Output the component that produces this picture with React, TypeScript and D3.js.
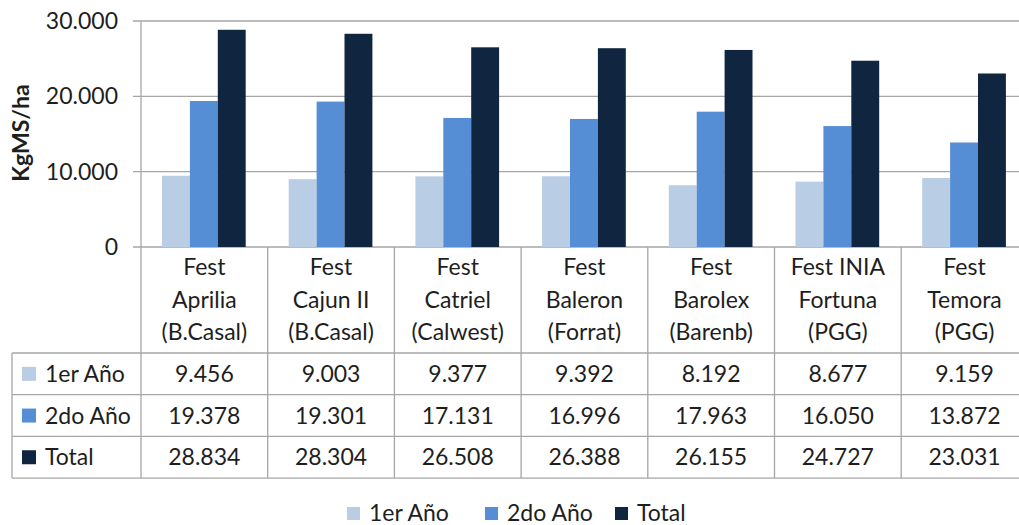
import * as d3 from "d3";
import { useEffect, useRef } from "react";

// varieties (header of the data table, one line per "\n")
const categories = [
  "Fest\nAprilia\n(B.Casal)",
  "Fest\nCajun II\n(B.Casal)",
  "Fest\nCatriel\n(Calwest)",
  "Fest\nBaleron\n(Forrat)",
  "Fest\nBarolex\n(Barenb)",
  "Fest INIA\nFortuna\n(PGG)",
  "Fest\nTemora\n(PGG)",
];

const seriesNames = ["1er Año", "2do Año", "Total"];
const primerAno = [9456, 9003, 9377, 9392, 8192, 8677, 9159];
const segundoAno = [19378, 19301, 17131, 16996, 17963, 16050, 13872];
const total = [28834, 28304, 26508, 26388, 26155, 24727, 23031];
const yTicks = [0, 10000, 20000, 30000];

const colors = ["#B9CDE5", "#558ED5", "#10253F"];
const FONT = "Lato, 'Open Sans', sans-serif";

const App: React.FC = () => {
  const ref = useRef<SVGSVGElement | null>(null);

  useEffect(() => {
    const svg = d3.select(ref.current);
    svg.selectAll("*").remove();

    const width = 1019;
    const left = 141,
      top = 21,
      axisY = 247;
    const colW = 126.7;
    const tableLeft = 12;
    const headerBottom = 353;
    const rowH = 41.7;
    const fontSize = 23;
    const grey = "#A6A6A6";
    const ink = "#1E1E1E";

    const values = [primerAno, segundoAno, total];
    const fmt = d3
      .formatLocale({
        decimal: ",",
        thousands: ".",
        grouping: [3],
        currency: ["", ""],
      })
      .format(",");

    const x = d3
      .scaleBand()
      .domain(categories)
      .range([left, left + colW * categories.length]);
    const xInner = d3
      .scaleBand()
      .domain(seriesNames)
      .range([21, x.bandwidth() - 22]);
    const y = d3.scaleLinear().domain([0, 30000]).range([axisY, top]);

    // gridlines + ticks
    const grid = svg.append("g");
    grid
      .selectAll("line")
      .data(yTicks)
      .join("line")
      .attr("x1", left - 8)
      .attr("x2", width)
      .attr("y1", (d) => y(d))
      .attr("y2", (d) => y(d))
      .attr("stroke", grey)
      .attr("stroke-width", 1.3);
    grid
      .selectAll("text")
      .data(yTicks)
      .join("text")
      .attr("x", left - 23)
      .attr("y", (d) => y(d) + 8)
      .attr("text-anchor", "end")
      .attr("font-family", FONT)
      .attr("font-size", fontSize)
      .attr("fill", ink)
      .text((d) => fmt(d));

    // bars
    const groups = svg
      .append("g")
      .selectAll("g")
      .data(categories)
      .join("g")
      .attr("transform", (d) => `translate(${x(d)},0)`);
    groups
      .selectAll("rect")
      .data((_, i) => seriesNames.map((s, k) => ({ s, v: values[k][i], k })))
      .join("rect")
      .attr("x", (d) => xInner(d.s) ?? 0)
      .attr("width", xInner.bandwidth())
      .attr("y", (d) => y(d.v))
      .attr("height", (d) => axisY - y(d.v))
      .attr("fill", (d) => colors[d.k]);

    // table lines
    const tableBottom = headerBottom + rowH * 3;
    const lines = svg.append("g").attr("stroke", grey).attr("stroke-width", 1.3);
    lines
      .append("line")
      .attr("x1", left)
      .attr("x2", left)
      .attr("y1", top)
      .attr("y2", tableBottom);
    categories.forEach((c) => {
      const xr = (x(c) ?? 0) + x.bandwidth();
      lines
        .append("line")
        .attr("x1", xr)
        .attr("x2", xr)
        .attr("y1", axisY)
        .attr("y2", tableBottom);
    });
    lines
      .append("line")
      .attr("x1", tableLeft)
      .attr("x2", tableLeft)
      .attr("y1", headerBottom)
      .attr("y2", tableBottom);
    [0, 1, 2, 3].forEach((r) => {
      const yy = headerBottom + rowH * r;
      lines
        .append("line")
        .attr("x1", tableLeft)
        .attr("x2", width)
        .attr("y1", yy)
        .attr("y2", yy);
    });

    // header text
    categories.forEach((c) => {
      const cx = (x(c) ?? 0) + x.bandwidth() / 2;
      const t = svg
        .append("text")
        .attr("text-anchor", "middle")
        .attr("font-family", FONT)
        .attr("font-size", fontSize)
        .attr("fill", ink);
      c.split("\n").forEach((ln, i) => {
        t.append("tspan")
          .attr("x", cx)
          .attr("y", 275 + i * 32.5)
          .text(ln);
      });
    });

    // data rows
    seriesNames.forEach((s, k) => {
      const base = headerBottom + rowH * k + rowH / 2 + 8;
      svg
        .append("rect")
        .attr("x", 22)
        .attr("y", base - 15)
        .attr("width", 14)
        .attr("height", 14)
        .attr("fill", colors[k]);
      svg
        .append("text")
        .attr("x", 45)
        .attr("y", base)
        .attr("font-family", FONT)
        .attr("font-size", fontSize)
        .attr("fill", ink)
        .text(s);
      values[k].forEach((v, i) => {
        svg
          .append("text")
          .attr("x", (x(categories[i]) ?? 0) + x.bandwidth() / 2)
          .attr("y", base)
          .attr("text-anchor", "middle")
          .attr("font-family", FONT)
          .attr("font-size", fontSize)
          .attr("fill", ink)
          .text(fmt(v));
      });
    });

    // y axis title
    svg
      .append("text")
      .attr("transform", `translate(29,133) rotate(-90)`)
      .attr("text-anchor", "middle")
      .attr("font-family", FONT)
      .attr("font-size", 23)
      .attr("font-weight", "bold")
      .attr("fill", ink)
      .text("KgMS/ha");

    // legend
    const legend = svg.append("g").attr("transform", "translate(347,521)");
    const legendX = [0, 138, 268];
    seriesNames.forEach((s, k) => {
      const g = legend.append("g").attr("transform", `translate(${legendX[k]},0)`);
      g.append("rect")
        .attr("y", -14)
        .attr("width", 13)
        .attr("height", 13)
        .attr("fill", colors[k]);
      g.append("text")
        .attr("x", 22)
        .attr("y", 0)
        .attr("font-family", FONT)
        .attr("font-size", fontSize)
        .attr("fill", ink)
        .text(s);
    });
  }, []);

  return (
    <svg
      ref={ref}
      width={1019}
      height={525}
      style={{ position: "absolute", left: 0, top: 0, background: "#fff" }}
    ></svg>
  );
};

export default App;
